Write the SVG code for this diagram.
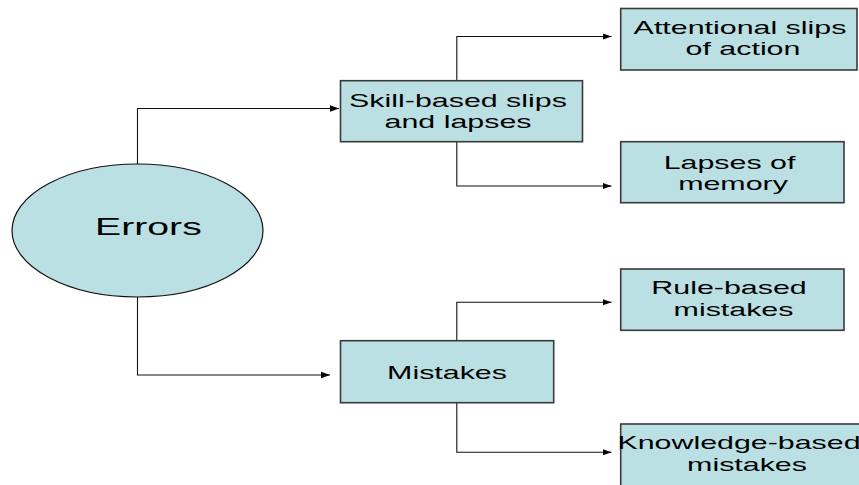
<svg xmlns="http://www.w3.org/2000/svg" width="859" height="485" viewBox="0 0 859 485">
<defs>
<marker id="arr" markerWidth="10" markerHeight="8" refX="9" refY="4" orient="auto" markerUnits="userSpaceOnUse">
<path d="M0,0.8 L9,4 L0,7.2 Z" fill="#000"/>
</marker>
<style>
.box{fill:#BBE0E3;stroke:#3a3a3a;stroke-width:1.6}
.ell{fill:#BBE0E3;stroke:#111;stroke-width:1.2}
.t{font-family:"Liberation Sans",Arial,sans-serif;font-size:19px;fill:#000;text-anchor:middle}
.big{font-size:23.5px}
.c{fill:none;stroke:#111;stroke-width:1.1}
</style>
</defs>
<rect width="859" height="485" fill="#fff"/>
<g id="connectors">
<path class="c" d="M137.5,164 V108.5 H339" marker-end="url(#arr)"/>
<path class="c" d="M137.5,297 V375 H330" marker-end="url(#arr)"/>
<path class="c" d="M456.8,80.7 V36.5 H611.5" marker-end="url(#arr)"/>
<path class="c" d="M456.8,141.7 V186 H611.5" marker-end="url(#arr)"/>
<path class="c" d="M456.8,340.7 V302.3 H611.5" marker-end="url(#arr)"/>
<path class="c" d="M456.8,402.7 V452.3 H611.5" marker-end="url(#arr)"/>
</g>
<g id="errors">
<ellipse class="ell" cx="137.5" cy="230.5" rx="125.5" ry="66.5"/>
<text class="t big" transform="matrix(1.67,0,0,1,148.4,0)" x="0" y="235">Errors</text>
</g>
<g id="skill">
<rect class="box" x="340.5" y="80.7" width="242" height="61"/>
<text class="t" transform="matrix(1.6,0,0,1,458,0)" x="0" y="107.3">Skill-based slips</text>
<text class="t" transform="matrix(1.6,0,0,1,458,0)" x="0" y="128.3">and lapses</text>
</g>
<g id="attentional">
<rect class="box" x="620.7" y="8.5" width="236.3" height="61.5"/>
<text class="t" transform="matrix(1.6,0,0,1,740,0)" x="0" y="34.3">Attentional slips</text>
<text class="t" transform="matrix(1.6,0,0,1,743,0)" x="0" y="55.3">of action</text>
</g>
<g id="lapses">
<rect class="box" x="620.7" y="141.7" width="223.3" height="61"/>
<text class="t" transform="matrix(1.6,0,0,1,729.5,0)" x="0" y="169">Lapses of</text>
<text class="t" transform="matrix(1.6,0,0,1,733,0)" x="0" y="190">memory</text>
</g>
<g id="mistakes">
<rect class="box" x="340.5" y="340.7" width="213.2" height="62"/>
<text class="t" transform="matrix(1.6,0,0,1,447,0)" x="0" y="378.7">Mistakes</text>
</g>
<g id="rule">
<rect class="box" x="620.7" y="269" width="223.3" height="61.3"/>
<text class="t" transform="matrix(1.6,0,0,1,729,0)" x="0" y="294.3">Rule-based</text>
<text class="t" transform="matrix(1.6,0,0,1,733.5,0)" x="0" y="316.5">mistakes</text>
</g>
<g id="knowledge">
<rect class="box" x="620.7" y="424" width="250" height="70"/>
<text class="t" transform="matrix(1.6,0,0,1,739,0)" x="0" y="449.3">Knowledge-based</text>
<text class="t" transform="matrix(1.6,0,0,1,747,0)" x="0" y="471">mistakes</text>
</g>
</svg>
